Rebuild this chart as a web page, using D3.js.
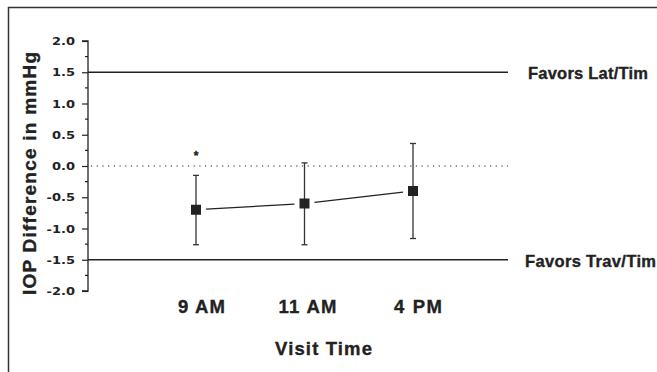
<!DOCTYPE html>
<html><head><meta charset="utf-8">
<script src="https://cdn.jsdelivr.net/npm/d3@7"></script>
<style>body{margin:0;background:#fff}svg{display:block;font-family:"Liberation Sans",Arial,sans-serif}</style>
</head><body><svg id="c" width="657" height="372"></svg>
<script>
const categories = ["9 AM", "11 AM", "4 PM"];
const means = [-0.70, -0.60, -0.40];
const upper = [-0.15, 0.05, 0.36];
const lower = [-1.26, -1.26, -1.16];
const yTicks = [2.0, 1.5, 1.0, 0.5, 0.0, -0.5, -1.0, -1.5, -2.0];
const refLines = [{v: 1.5, label: "Favors Lat/Tim"}, {v: -1.5, label: "Favors Trav/Tim"}];
const sigMarks = ["*", "", ""];

const svg = d3.select("#c");
const ink = "#222";
svg.append("path").attr("d", "M8.5,372V7.5H657").attr("fill", "none").attr("stroke", "#333").attr("stroke-width", 1.5);

const y = d3.scaleLinear().domain([-2, 2]).range([291, 41]);
const x = d3.scalePoint().domain(categories).range([196, 413]);
const axX = 88;
const plotRight = 508;

const yAxis = d3.axisLeft(y).tickValues(yTicks).tickSize(6).tickFormat(d => d3.format(".1f")(d).replace("−", "-"));
const gy = svg.append("g").attr("transform", `translate(${axX},0)`).call(yAxis);
gy.select(".domain").attr("stroke", ink).attr("stroke-width", 1.3).attr("d", `M-6,${y(2)}H0V${y(-2)}H-6`);
gy.selectAll(".tick line").attr("stroke", ink).attr("stroke-width", 1.2);
gy.selectAll(".tick text")
  .attr("font-family", "'DejaVu Sans', sans-serif").attr("font-size", 10).attr("font-weight", "bold").attr("fill", ink)
  .attr("x", 0).attr("dy", "0.36em")
  .attr("transform", "translate(-13,0) scale(1.3,1)");
const minor = d3.range(-1.75, 2, 0.5);
gy.selectAll(".minor").data(minor).enter().append("line")
  .attr("x1", -3).attr("x2", 0).attr("y1", d => y(d)).attr("y2", d => y(d)).attr("stroke", ink).attr("stroke-width", 1.2);

const bold = sel => sel.attr("font-weight", "bold").attr("fill", ink).attr("stroke", ink).attr("stroke-width", 0.35);

refLines.forEach((r, i) => {
  svg.append("line").attr("x1", axX).attr("x2", plotRight).attr("y1", y(r.v)).attr("y2", y(r.v))
    .attr("stroke", ink).attr("stroke-width", 1.6);
  svg.append("text").attr("x", i === 0 ? 528 : 525).attr("y", y(r.v) + 7).attr("font-size", 16.5)
    .attr("textLength", i === 0 ? 120 : 131).call(bold).text(r.label);
});
svg.append("line").attr("x1", axX + 3).attr("x2", plotRight).attr("y1", y(0)).attr("y2", y(0))
  .attr("stroke", ink).attr("stroke-width", 1.2).attr("stroke-dasharray", "1.2,4.5");

for (let i = 0; i < categories.length - 1; i++) {
  const x1 = x(categories[i]), x2 = x(categories[i + 1]);
  const y1 = y(means[i]), y2 = y(means[i + 1]);
  const g = 10, t1 = g / (x2 - x1), t2 = 1 - t1;
  svg.append("line").attr("x1", x1 + (x2 - x1) * t1).attr("y1", y1 + (y2 - y1) * t1)
    .attr("x2", x1 + (x2 - x1) * t2).attr("y2", y1 + (y2 - y1) * t2)
    .attr("stroke", ink).attr("stroke-width", 1.3);
}
categories.forEach((c, i) => {
  const cx = x(c);
  svg.append("line").attr("x1", cx).attr("x2", cx).attr("y1", y(upper[i])).attr("y2", y(lower[i])).attr("stroke", "#333").attr("stroke-width", 1.3);
  [upper[i], lower[i]].forEach(v => svg.append("line").attr("x1", cx - 3).attr("x2", cx + 3).attr("y1", y(v)).attr("y2", y(v)).attr("stroke", "#333").attr("stroke-width", 1.3));
  svg.append("rect").attr("x", cx - 5).attr("y", y(means[i]) - 5).attr("width", 10).attr("height", 10).attr("fill", ink);
  if (sigMarks[i]) svg.append("text").attr("x", cx).attr("y", 160).attr("text-anchor", "middle").attr("font-size", 12).call(bold).text(sigMarks[i]);
});

const xLen = {"9 AM": 47, "11 AM": 58, "4 PM": 48};
const xOff = {"9 AM": 5.5, "11 AM": 3, "4 PM": 5};
categories.forEach(c => svg.append("text").attr("x", x(c) + xOff[c] - xLen[c] / 2).attr("y", 313)
  .attr("font-size", 18.5).call(bold)
  .attr("textLength", xLen[c]).text(c));
svg.append("text").attr("x", 275).attr("y", 355).attr("font-size", 18.5).call(bold).attr("textLength", 97).text("Visit Time");
svg.append("text").attr("transform", "translate(36,295) rotate(-90)").attr("font-size", 19).call(bold).attr("textLength", 243).text("IOP Difference in mmHg");
</script></body></html>
